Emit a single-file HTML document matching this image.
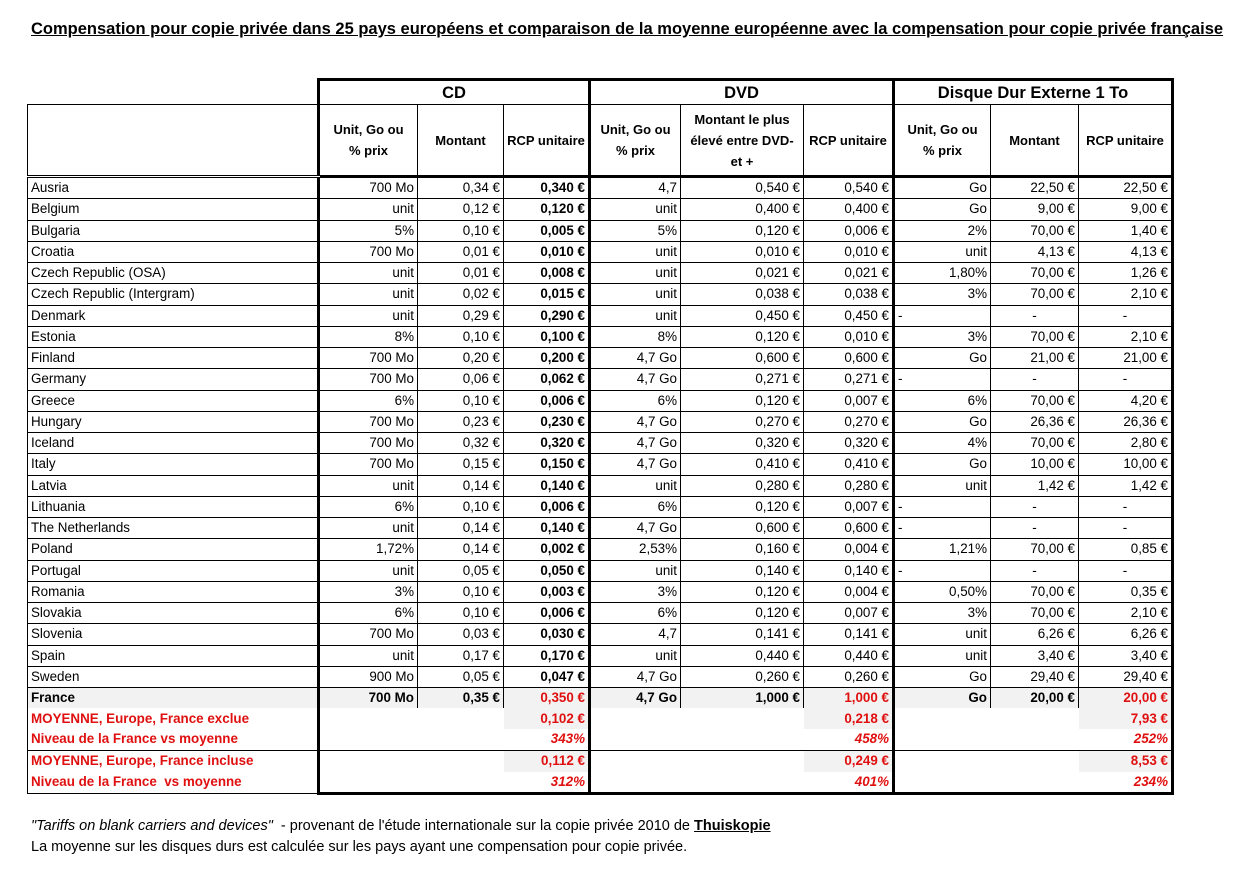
<!DOCTYPE html>
<html><head><meta charset="utf-8">
<style>
html,body{margin:0;padding:0;background:#fff;}
body{width:1250px;height:888px;position:relative;font-family:"Liberation Sans",sans-serif;color:#000;overflow:hidden;}
.title{position:absolute;left:31px;top:20px;font-size:16.5px;font-weight:bold;text-decoration:underline;white-space:nowrap;}
table{position:absolute;left:27px;top:78px;border-collapse:collapse;table-layout:fixed;font-size:13.4px;}
td{padding:0 3px;white-space:nowrap;overflow:hidden;border:1px solid #000;text-align:right;height:20px;line-height:20px;}
tr.d td{height:20.25px;line-height:20px;}
td.n{text-align:left;}
.h1 td{height:23px;font-size:16.5px;font-weight:bold;text-align:center;border-top:3px solid #000;}
.h2 td{height:70px;font-weight:bold;text-align:center;white-space:normal;line-height:21px;border-bottom:3px solid #000;font-size:13px;}
.h2 td.n{border-bottom:3px double #000;}
.gl{border-left:3px solid #000 !important;}
.gr{border-right:3px solid #000 !important;}
.b{font-weight:bold;}
tr.fr td{background:#f2f2f2;font-weight:bold;}
.red{color:#e01010;}
tr.s td{border-top:none;border-bottom:none;border-left:none;border-right:none;color:#e01010;height:20.75px;}
tr.s td.n{border-left:1px solid #000;font-weight:bold;text-align:left;}
tr.s td.sh{background:#f2f2f2;}
tr.s td.i{font-style:italic;font-weight:bold;}
tr.s.top td{border-top:1px solid #000;}
tr.s.last td{border-bottom:1px solid #000;}
tr.s.last td.g{border-bottom:3px solid #000;}
.foot{position:absolute;left:31px;font-size:14.5px;white-space:nowrap;}
</style></head><body>
<div class="title">Compensation pour copie privée dans 25 pays européens et comparaison de la moyenne européenne avec la compensation pour copie privée française</div>
<table>
<colgroup><col style="width:291px"><col style="width:99px"><col style="width:86px"><col style="width:86px"><col style="width:91px"><col style="width:123px"><col style="width:90px"><col style="width:97px"><col style="width:88px"><col style="width:94px"></colgroup>
<tr class="h1"><td style="border:none;border-bottom:1px solid #000"></td><td colspan="3" class="gl">CD</td><td colspan="3" class="gl">DVD</td><td colspan="3" class="gl gr">Disque Dur Externe 1 To</td></tr>
<tr class="h2"><td class="n"></td><td class="gl">Unit, Go ou<br>% prix</td><td>Montant</td><td>RCP unitaire</td><td class="gl">Unit, Go ou<br>% prix</td><td>Montant le plus élevé entre DVD- et +</td><td>RCP unitaire</td><td class="gl">Unit, Go ou<br>% prix</td><td>Montant</td><td class="gr">RCP unitaire</td></tr>
<tr class="d"><td class="n">Ausria</td><td class="gl">700 Mo</td><td>0,34 €</td><td class="b">0,340 €</td><td class="gl">4,7</td><td>0,540 €</td><td>0,540 €</td><td class="gl">Go</td><td>22,50 €</td><td class="gr">22,50 €</td></tr>
<tr class="d"><td class="n">Belgium</td><td class="gl">unit</td><td>0,12 €</td><td class="b">0,120 €</td><td class="gl">unit</td><td>0,400 €</td><td>0,400 €</td><td class="gl">Go</td><td>9,00 €</td><td class="gr">9,00 €</td></tr>
<tr class="d"><td class="n">Bulgaria</td><td class="gl">5%</td><td>0,10 €</td><td class="b">0,005 €</td><td class="gl">5%</td><td>0,120 €</td><td>0,006 €</td><td class="gl">2%</td><td>70,00 €</td><td class="gr">1,40 €</td></tr>
<tr class="d"><td class="n">Croatia</td><td class="gl">700 Mo</td><td>0,01 €</td><td class="b">0,010 €</td><td class="gl">unit</td><td>0,010 €</td><td>0,010 €</td><td class="gl">unit</td><td>4,13 €</td><td class="gr">4,13 €</td></tr>
<tr class="d"><td class="n">Czech Republic (OSA)</td><td class="gl">unit</td><td>0,01 €</td><td class="b">0,008 €</td><td class="gl">unit</td><td>0,021 €</td><td>0,021 €</td><td class="gl">1,80%</td><td>70,00 €</td><td class="gr">1,26 €</td></tr>
<tr class="d"><td class="n">Czech Republic (Intergram)</td><td class="gl">unit</td><td>0,02 €</td><td class="b">0,015 €</td><td class="gl">unit</td><td>0,038 €</td><td>0,038 €</td><td class="gl">3%</td><td>70,00 €</td><td class="gr">2,10 €</td></tr>
<tr class="d"><td class="n">Denmark</td><td class="gl">unit</td><td>0,29 €</td><td class="b">0,290 €</td><td class="gl">unit</td><td>0,450 €</td><td>0,450 €</td><td class="gl" style="text-align:left">-</td><td style="text-align:center">-</td><td class="gr" style="text-align:center">-</td></tr>
<tr class="d"><td class="n">Estonia</td><td class="gl">8%</td><td>0,10 €</td><td class="b">0,100 €</td><td class="gl">8%</td><td>0,120 €</td><td>0,010 €</td><td class="gl">3%</td><td>70,00 €</td><td class="gr">2,10 €</td></tr>
<tr class="d"><td class="n">Finland</td><td class="gl">700 Mo</td><td>0,20 €</td><td class="b">0,200 €</td><td class="gl">4,7 Go</td><td>0,600 €</td><td>0,600 €</td><td class="gl">Go</td><td>21,00 €</td><td class="gr">21,00 €</td></tr>
<tr class="d"><td class="n">Germany</td><td class="gl">700 Mo</td><td>0,06 €</td><td class="b">0,062 €</td><td class="gl">4,7 Go</td><td>0,271 €</td><td>0,271 €</td><td class="gl" style="text-align:left">-</td><td style="text-align:center">-</td><td class="gr" style="text-align:center">-</td></tr>
<tr class="d"><td class="n">Greece</td><td class="gl">6%</td><td>0,10 €</td><td class="b">0,006 €</td><td class="gl">6%</td><td>0,120 €</td><td>0,007 €</td><td class="gl">6%</td><td>70,00 €</td><td class="gr">4,20 €</td></tr>
<tr class="d"><td class="n">Hungary</td><td class="gl">700 Mo</td><td>0,23 €</td><td class="b">0,230 €</td><td class="gl">4,7 Go</td><td>0,270 €</td><td>0,270 €</td><td class="gl">Go</td><td>26,36 €</td><td class="gr">26,36 €</td></tr>
<tr class="d"><td class="n">Iceland</td><td class="gl">700 Mo</td><td>0,32 €</td><td class="b">0,320 €</td><td class="gl">4,7 Go</td><td>0,320 €</td><td>0,320 €</td><td class="gl">4%</td><td>70,00 €</td><td class="gr">2,80 €</td></tr>
<tr class="d"><td class="n">Italy</td><td class="gl">700 Mo</td><td>0,15 €</td><td class="b">0,150 €</td><td class="gl">4,7 Go</td><td>0,410 €</td><td>0,410 €</td><td class="gl">Go</td><td>10,00 €</td><td class="gr">10,00 €</td></tr>
<tr class="d"><td class="n">Latvia</td><td class="gl">unit</td><td>0,14 €</td><td class="b">0,140 €</td><td class="gl">unit</td><td>0,280 €</td><td>0,280 €</td><td class="gl">unit</td><td>1,42 €</td><td class="gr">1,42 €</td></tr>
<tr class="d"><td class="n">Lithuania</td><td class="gl">6%</td><td>0,10 €</td><td class="b">0,006 €</td><td class="gl">6%</td><td>0,120 €</td><td>0,007 €</td><td class="gl" style="text-align:left">-</td><td style="text-align:center">-</td><td class="gr" style="text-align:center">-</td></tr>
<tr class="d"><td class="n">The Netherlands</td><td class="gl">unit</td><td>0,14 €</td><td class="b">0,140 €</td><td class="gl">4,7 Go</td><td>0,600 €</td><td>0,600 €</td><td class="gl" style="text-align:left">-</td><td style="text-align:center">-</td><td class="gr" style="text-align:center">-</td></tr>
<tr class="d"><td class="n">Poland</td><td class="gl">1,72%</td><td>0,14 €</td><td class="b">0,002 €</td><td class="gl">2,53%</td><td>0,160 €</td><td>0,004 €</td><td class="gl">1,21%</td><td>70,00 €</td><td class="gr">0,85 €</td></tr>
<tr class="d"><td class="n">Portugal</td><td class="gl">unit</td><td>0,05 €</td><td class="b">0,050 €</td><td class="gl">unit</td><td>0,140 €</td><td>0,140 €</td><td class="gl" style="text-align:left">-</td><td style="text-align:center">-</td><td class="gr" style="text-align:center">-</td></tr>
<tr class="d"><td class="n">Romania</td><td class="gl">3%</td><td>0,10 €</td><td class="b">0,003 €</td><td class="gl">3%</td><td>0,120 €</td><td>0,004 €</td><td class="gl">0,50%</td><td>70,00 €</td><td class="gr">0,35 €</td></tr>
<tr class="d"><td class="n">Slovakia</td><td class="gl">6%</td><td>0,10 €</td><td class="b">0,006 €</td><td class="gl">6%</td><td>0,120 €</td><td>0,007 €</td><td class="gl">3%</td><td>70,00 €</td><td class="gr">2,10 €</td></tr>
<tr class="d"><td class="n">Slovenia</td><td class="gl">700 Mo</td><td>0,03 €</td><td class="b">0,030 €</td><td class="gl">4,7</td><td>0,141 €</td><td>0,141 €</td><td class="gl">unit</td><td>6,26 €</td><td class="gr">6,26 €</td></tr>
<tr class="d"><td class="n">Spain</td><td class="gl">unit</td><td>0,17 €</td><td class="b">0,170 €</td><td class="gl">unit</td><td>0,440 €</td><td>0,440 €</td><td class="gl">unit</td><td>3,40 €</td><td class="gr">3,40 €</td></tr>
<tr class="d"><td class="n">Sweden</td><td class="gl">900 Mo</td><td>0,05 €</td><td class="b">0,047 €</td><td class="gl">4,7 Go</td><td>0,260 €</td><td>0,260 €</td><td class="gl">Go</td><td>29,40 €</td><td class="gr">29,40 €</td></tr>
<tr class="d fr"><td class="n" style="border-bottom:none">France</td><td class="gl" style="border-bottom:none">700 Mo</td><td style="border-bottom:none">0,35 €</td><td class="red" style="border-bottom:none">0,350 €</td><td class="gl" style="border-bottom:none">4,7 Go</td><td style="border-bottom:none">1,000 €</td><td class="red" style="border-bottom:none">1,000 €</td><td class="gl" style="border-bottom:none">Go</td><td style="border-bottom:none">20,00 €</td><td class="gr red" style="border-bottom:none">20,00 €</td></tr>
<tr class="s"><td class="n">MOYENNE, Europe, France exclue</td><td class="gl"></td><td></td><td class="sh b">0,102 €</td><td class="gl"></td><td></td><td class="sh b">0,218 €</td><td class="gl"></td><td></td><td class="sh b gr">7,93 €</td></tr>
<tr class="s"><td class="n">Niveau de la France vs moyenne</td><td class="gl"></td><td></td><td class="i">343%</td><td class="gl"></td><td></td><td class="i">458%</td><td class="gl"></td><td></td><td class="i gr">252%</td></tr>
<tr class="s top"><td class="n">MOYENNE, Europe, France incluse</td><td class="gl"></td><td></td><td class="sh b">0,112 €</td><td class="gl"></td><td></td><td class="sh b">0,249 €</td><td class="gl"></td><td></td><td class="sh b gr">8,53 €</td></tr>
<tr class="s last"><td class="n">Niveau de la France&nbsp; vs moyenne</td><td class="gl g"></td><td class="g"></td><td class="i g">312%</td><td class="gl g"></td><td class="g"></td><td class="i g">401%</td><td class="gl g"></td><td class="g"></td><td class="i gr g">234%</td></tr>
</table>
<div class="foot" style="top:818px"><i>"Tariffs on blank carriers and devices"</i>&nbsp; - provenant de l'étude internationale sur la copie privée 2010 de <b><u>Thuiskopie</u></b></div>
<div class="foot" style="top:839px">La moyenne sur les disques durs est calculée sur les pays ayant une compensation pour copie privée.</div>
</body></html>
